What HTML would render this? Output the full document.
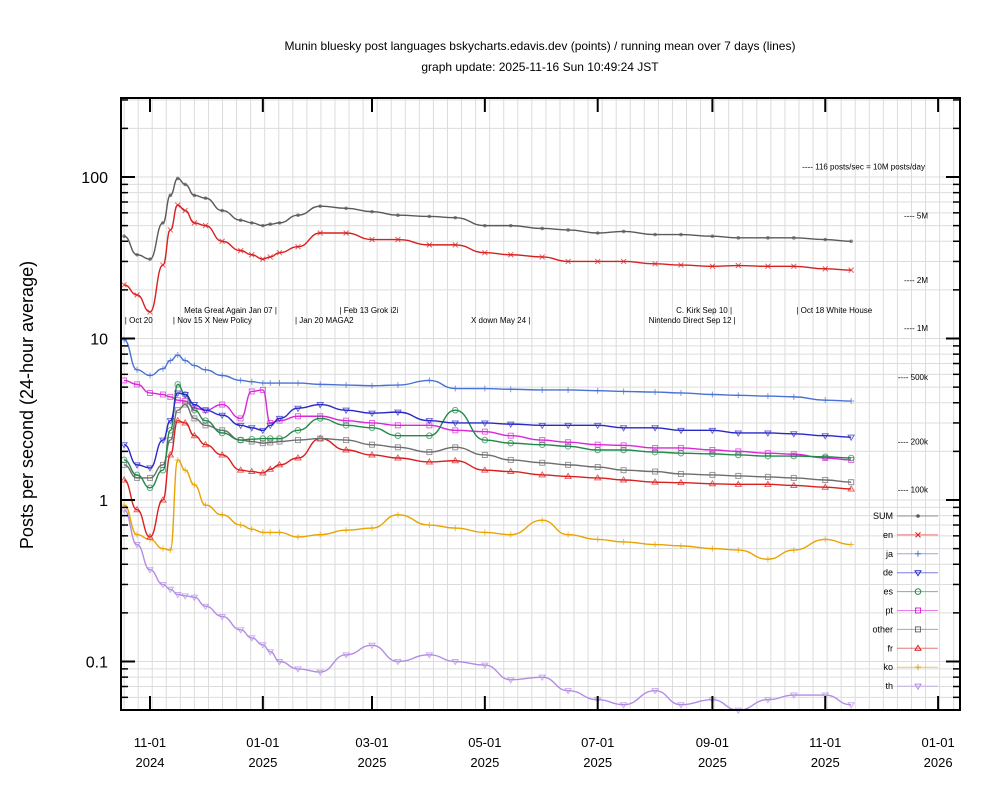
<!DOCTYPE html>
<html><head><meta charset="utf-8">
<style>
html,body{margin:0;padding:0;background:#fff;}
svg{display:block;font-family:"Liberation Sans",sans-serif;}
</style></head>
<body>
<svg id="chart" width="1000" height="800" viewBox="0 0 1000 800">
<text x="540" y="50" text-anchor="middle" font-size="12">Munin bluesky post languages  bskycharts.edavis.dev (points) / running mean over 7 days (lines)</text>
<text x="540" y="71" text-anchor="middle" font-size="12">graph update: 2025-11-16 Sun 10:49:24 JST</text>
<text transform="translate(33,405) rotate(-90)" text-anchor="middle" font-size="18">Posts per second (24-hour average)</text>
<g id="grid"></g>
<g id="ann"></g>
<g id="series"></g>
<g id="axes"></g>
<g id="legend"></g>
</svg>
<script>
const dates = ["2024-10-18","2024-10-25","2024-11-01","2024-11-08","2024-11-12","2024-11-16","2024-11-20","2024-11-25","2024-12-01","2024-12-10","2024-12-20","2024-12-26","2025-01-01","2025-01-05","2025-01-10","2025-01-20","2025-02-01","2025-02-15","2025-03-01","2025-03-15","2025-04-01","2025-04-15","2025-05-01","2025-05-15","2025-06-01","2025-06-15","2025-07-01","2025-07-15","2025-08-01","2025-08-15","2025-09-01","2025-09-15","2025-10-01","2025-10-15","2025-11-01","2025-11-15"];
const sumVals   = [43,33,31,52,77,98,90,77,74,62,54,52,50,51,52,58,66,64,61,58,57,56,50,50,48,47,45,46,44,44,43,42,42,42,41,40];
const enVals    = [21.5,18.6,14.6,28.5,47,67,62,52,50,40,35,33,31,32,34,37,45,45,41,41,38,38,34,33,32,30,30,30,29,28.5,28,28.3,28,28,27,26.5];
const jaVals    = [9.8,6.4,5.9,6.5,7.3,7.9,7.3,6.8,6.4,5.9,5.5,5.4,5.3,5.3,5.3,5.3,5.2,5.15,5.1,5.15,5.5,4.9,4.9,4.85,4.8,4.8,4.75,4.7,4.66,4.6,4.5,4.45,4.4,4.35,4.15,4.1];
const deVals    = [2.2,1.65,1.58,2.35,3.1,4.6,4.5,3.9,3.6,3.35,2.9,2.8,2.7,2.9,3.2,3.7,3.9,3.6,3.45,3.5,3.1,3.0,3.0,2.95,2.9,2.9,2.9,2.8,2.8,2.7,2.7,2.6,2.6,2.57,2.5,2.45];
const esVals    = [1.77,1.43,1.19,1.53,2.7,5.2,4.5,3.6,3.1,2.6,2.35,2.38,2.4,2.4,2.4,2.7,3.2,2.9,2.8,2.5,2.5,3.6,2.35,2.25,2.2,2.15,2.04,2.04,1.98,1.95,1.93,1.9,1.87,1.87,1.85,1.82];
const ptVals    = [5.5,5.2,4.6,4.5,4.35,4.15,4.1,3.7,3.6,3.9,3.2,4.7,4.8,3.0,3.1,3.3,3.3,3.1,3.0,2.9,2.9,2.7,2.65,2.5,2.35,2.28,2.2,2.18,2.1,2.1,2.04,2.0,1.95,1.92,1.82,1.77];
const otherVals = [1.65,1.37,1.37,1.65,2.35,3.6,3.9,3.2,2.9,2.7,2.35,2.3,2.25,2.27,2.3,2.35,2.4,2.35,2.2,2.12,1.98,2.12,1.9,1.77,1.7,1.65,1.6,1.53,1.5,1.45,1.43,1.41,1.39,1.37,1.33,1.29];
const frVals    = [1.33,0.87,0.59,1.0,1.9,3.1,3.0,2.5,2.2,1.9,1.53,1.5,1.47,1.55,1.65,1.82,2.4,2.04,1.9,1.82,1.72,1.75,1.53,1.5,1.43,1.4,1.37,1.33,1.29,1.28,1.26,1.25,1.25,1.23,1.2,1.17];
const koVals    = [0.93,0.61,0.57,0.5,0.49,1.77,1.53,1.24,0.93,0.81,0.7,0.66,0.63,0.63,0.63,0.59,0.61,0.65,0.67,0.81,0.7,0.67,0.63,0.61,0.75,0.61,0.57,0.55,0.53,0.52,0.5,0.49,0.43,0.49,0.57,0.53];
const thVals    = [0.87,0.53,0.37,0.3,0.28,0.26,0.255,0.25,0.22,0.19,0.157,0.14,0.127,0.115,0.1,0.09,0.086,0.11,0.126,0.1,0.11,0.1,0.095,0.077,0.08,0.066,0.058,0.054,0.066,0.054,0.058,0.05,0.058,0.062,0.062,0.054];
const yTickVals = [0.1,1,10,100];
const yTickLabels = ["0.1","1","10","100"];
const xTickDates = ["2024-11-01","2025-01-01","2025-03-01","2025-05-01","2025-07-01","2025-09-01","2025-11-01","2026-01-01"];
const xTickMonths = ["11-01","01-01","03-01","05-01","07-01","09-01","11-01","01-01"];
const xTickYears = ["2024","2025","2025","2025","2025","2025","2025","2026"];
const rightLabelVals = [116,57.9,23.1,11.6,5.79,2.31,1.16];
const rightLabelText = ["---- 116 posts/sec = 10M posts/day","---- 5M","---- 2M","---- 1M","---- 500k","---- 200k","---- 100k"];
const annDates = ["2024-10-20","2025-01-07","2024-11-15","2025-01-20","2025-02-13","2025-05-24","2025-09-10","2025-09-12","2025-10-18"];
const annText = ["| Oct 20","Meta Great Again Jan 07 |","| Nov 15 X New Policy","| Jan 20 MAGA2","| Feb 13 Grok i2i","X down May 24 |","C. Kirk Sep 10 |","Nintendo Direct Sep 12 |","| Oct 18 White House"];
const annRow = [1,0,1,1,0,1,0,1,0];

const L=121,R=960,T=98,B=710;
const D0=Date.UTC(2024,10,1);
function day(s){const p=s.split('-');return (Date.UTC(+p[0],+p[1]-1,+p[2])-D0)/86400000;}
function xs(s){return 150+day(s)*1.85;}
function ys(v){return 500-Math.log10(v)*161.5;}
const NS="http://www.w3.org/2000/svg";
function mk(tag,attrs,parent){const e=document.createElementNS(NS,tag);for(const k in attrs)e.setAttribute(k,attrs[k]);parent.appendChild(e);return e;}

const grid=document.getElementById('grid');
// vertical weekly grid
for(let d=-14; d<440; d+=7.6){const x=150+d*1.85; if(x<=L||x>=R)continue;
 const g=mk('line',{x1:x,x2:x,y1:T,y2:B,stroke:'#dcdcdc','stroke-width':1},grid);
 
 }
// horizontal minor log grid
for(let e=-2;e<=2;e++){for(let m=1;m<=9;m++){const v=m*Math.pow(10,e);const y=ys(v);if(y<T||y>B)continue;
 const g=mk('line',{x1:L,x2:R,y1:y,y2:y,stroke:'#dcdcdc','stroke-width':1},grid);
 
 }}

const ann=document.getElementById('ann');
annText.forEach((t,i)=>{const x=xs(annDates[i]);const right=t.endsWith('|');
 const tx=mk('text',{x:right?x+3:x-3,y:annRow[i]?323:313,'font-size':8,'text-anchor':right?'end':'start',fill:'#000'},ann);
 tx.textContent=t;
 
 });
rightLabelText.forEach((t,i)=>{const y=ys(rightLabelVals[i])+3;
 const tx=mk('text',{x:i===0?925:928,y:y,'font-size':8,'text-anchor':'end'},ann);
 tx.textContent=t;
 
 });

const series=[
 {name:'SUM',vals:sumVals,color:'#5a5a5a',mark:'dot'},
 {name:'en',vals:enVals,color:'#d82020',mark:'x'},
 {name:'ja',vals:jaVals,color:'#4a72d4',mark:'plus'},
 {name:'de',vals:deVals,color:'#2828c8',mark:'tri-down'},
 {name:'es',vals:esVals,color:'#22884a',mark:'circle'},
 {name:'pt',vals:ptVals,color:'#d828d8',mark:'square'},
 {name:'other',vals:otherVals,color:'#6e6e6e',mark:'square'},
 {name:'fr',vals:frVals,color:'#d82020',mark:'tri-up'},
 {name:'ko',vals:koVals,color:'#e8a400',mark:'plus'},
 {name:'th',vals:thVals,color:'#b48ce4',mark:'tri-down'}
];
function marker(g,type,x,y,c,op){
 const a={fill:'none',stroke:c,'stroke-width':1,opacity:op};
 let e;
 if(type==='dot')e=mk('circle',{cx:x,cy:y,r:1.8,fill:c,opacity:op},g);
 else if(type==='x')e=mk('path',Object.assign({d:`M${x-2.5},${y-2.5}L${x+2.5},${y+2.5}M${x-2.5},${y+2.5}L${x+2.5},${y-2.5}`},a),g);
 else if(type==='plus')e=mk('path',Object.assign({d:`M${x-3},${y}L${x+3},${y}M${x},${y-3}L${x},${y+3}`},a),g);
 else if(type==='tri-down')e=mk('path',Object.assign({d:`M${x-3},${y-2}L${x+3},${y-2}L${x},${y+3}Z`},a),g);
 else if(type==='tri-up')e=mk('path',Object.assign({d:`M${x-3},${y+2}L${x+3},${y+2}L${x},${y-3}Z`},a),g);
 else if(type==='circle')e=mk('circle',Object.assign({cx:x,cy:y,r:2.8},a),g);
 else e=mk('rect',Object.assign({x:x-2.5,y:y-2.5,width:5,height:5},a),g);
 return e;
}
const sg=document.getElementById('series');
series.slice().reverse().forEach(s=>{
 const g=mk('g',{},sg);
 
 
 const pts=s.vals.map((v,i)=>[xs(dates[i]),ys(v)]);
 let d='M'+pts[0][0]+','+pts[0][1];
 for(let i=1;i<pts.length;i++){const p0=pts[i-1],p1=pts[i];const mx=(p0[0]+p1[0])/2;d+=` C${mx},${p0[1]} ${mx},${p1[1]} ${p1[0]},${p1[1]}`;}
 const path=mk('path',{d:d,fill:'none',stroke:s.color,'stroke-width':1.4},g);
 
 
 pts.forEach(p=>{const m=marker(g,s.mark,p[0],p[1],s.color,0.7);
  
  });
});

const ax=document.getElementById('axes');
const frame=mk('rect',{x:L,y:T,width:R-L,height:B-T,fill:'none',stroke:'#000','stroke-width':2},ax);


for(let e=-2;e<=2;e++){for(let m=1;m<=9;m++){const v=m*Math.pow(10,e);const y=ys(v);if(y<T||y>B)continue;const len=m===1?14:7;
 const t1=mk('line',{x1:L,x2:L+len,y1:y,y2:y,stroke:'#000','stroke-width':m===1?2:1.5},ax);
 
 
 const t2=mk('line',{x1:R-len,x2:R,y1:y,y2:y,stroke:'#000','stroke-width':m===1?2:1.5},ax);
 
 }}
yTickVals.forEach((v,i)=>{const tx=mk('text',{x:108,y:ys(v)+6,'font-size':16,'text-anchor':'end'},ax);
 tx.textContent=yTickLabels[i];
 
 });
xTickDates.forEach((s,i)=>{const x=xs(s);
 const t1=mk('line',{x1:x,x2:x,y1:B-14,y2:B,stroke:'#000','stroke-width':2},ax);
 
 
 const t2=mk('line',{x1:x,x2:x,y1:T,y2:T+14,stroke:'#000','stroke-width':2},ax);
 
 
 const a=mk('text',{x:x,y:747,'font-size':13,'text-anchor':'middle'},ax);
 a.textContent=xTickMonths[i];
 
 
 const b=mk('text',{x:x,y:767,'font-size':13,'text-anchor':'middle'},ax);
 b.textContent=xTickYears[i];
 
 });

const lg=document.getElementById('legend');
series.forEach((s,i)=>{const y=516+i*18.9;
 const g=mk('g',{},lg);
 
 
 const t=mk('text',{x:893,y:y+3,'font-size':9,'text-anchor':'end'},g);
 t.textContent=s.name;
 mk('line',{x1:897,x2:938,y1:y,y2:y,stroke:s.color,'stroke-width':1,opacity:0.6},g);
 marker(g,s.mark,918,y,s.color,1);
});
</script>
</body></html>
